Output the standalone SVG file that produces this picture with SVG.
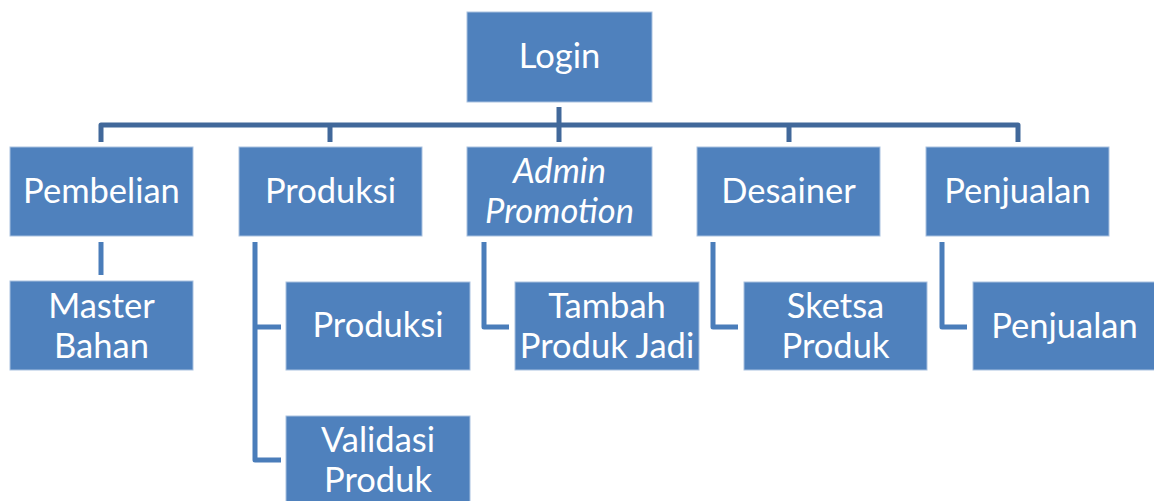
<svg xmlns="http://www.w3.org/2000/svg" width="1154" height="501" viewBox="0 0 1154 501">
<style>
.box{fill:#4F81BD;stroke:#A9C1E0;stroke-width:1}
.t{font-family:Lato,"Open Sans",sans-serif;font-size:34.5px;fill:#ffffff;text-anchor:middle}
.i{font-style:italic}
.bus{fill:none;stroke:#41689A;stroke-width:5;stroke-linejoin:round}
.sub{fill:none;stroke:#4A7DBA;stroke-width:5;stroke-linejoin:round}
</style>
<rect width="1154" height="501" fill="#ffffff"/>
<g id="connectors">
<path class="bus" d="M559,107 V125"/>
<path class="bus" d="M101,142 V125 H1018 V142"/>
<path class="bus" d="M330,125 V142 M559,125 V142 M789,125 V142"/>
<path class="sub" d="M101,242 V275"/>
<path class="sub" d="M255,242 V460 H281 M255,327 H281"/>
<path class="sub" d="M484,242 V327 H509"/>
<path class="sub" d="M713,242 V327 H738"/>
<path class="sub" d="M942,242 V327 H967"/>
</g>
<g id="login"><rect class="box" x="467" y="12" width="185" height="90"/><text class="t" x="559.5" y="68">Login</text></g>
<g id="pembelian"><rect class="box" x="10" y="147" width="183" height="89"/><text class="t" x="101.5" y="203">Pembelian</text></g>
<g id="produksi"><rect class="box" x="239" y="147" width="183" height="89"/><text class="t" x="330.5" y="203">Produksi</text></g>
<g id="admin"><rect class="box" x="467" y="147" width="185" height="89"/><text class="t i" x="559.5" y="183">Admin</text><text class="t i" x="559.5" y="223">Promotion</text></g>
<g id="desainer"><rect class="box" x="697" y="147" width="183" height="89"/><text class="t" x="788.5" y="203">Desainer</text></g>
<g id="penjualan"><rect class="box" x="926" y="147" width="183" height="89"/><text class="t" x="1017.5" y="203">Penjualan</text></g>
<g id="master-bahan"><rect class="box" x="10" y="281" width="183" height="89"/><text class="t" x="101.5" y="318">Master</text><text class="t" x="101.5" y="358">Bahan</text></g>
<g id="produksi-child"><rect class="box" x="286" y="282" width="184" height="88"/><text class="t" x="378" y="337">Produksi</text></g>
<g id="validasi-produk"><rect class="box" x="286" y="416" width="184" height="89"/><text class="t" x="378" y="452">Validasi</text><text class="t" x="378" y="492">Produk</text></g>
<g id="tambah-produk-jadi"><rect class="box" x="515" y="282" width="184" height="88"/><text class="t" x="607" y="318">Tambah</text><text class="t" x="607" y="358">Produk Jadi</text></g>
<g id="sketsa-produk"><rect class="box" x="744" y="282" width="183" height="88"/><text class="t" x="835.5" y="318">Sketsa</text><text class="t" x="835.5" y="358">Produk</text></g>
<g id="penjualan-child"><rect class="box" x="973" y="282" width="183" height="88"/><text class="t" x="1064.5" y="338">Penjualan</text></g>
</svg>
